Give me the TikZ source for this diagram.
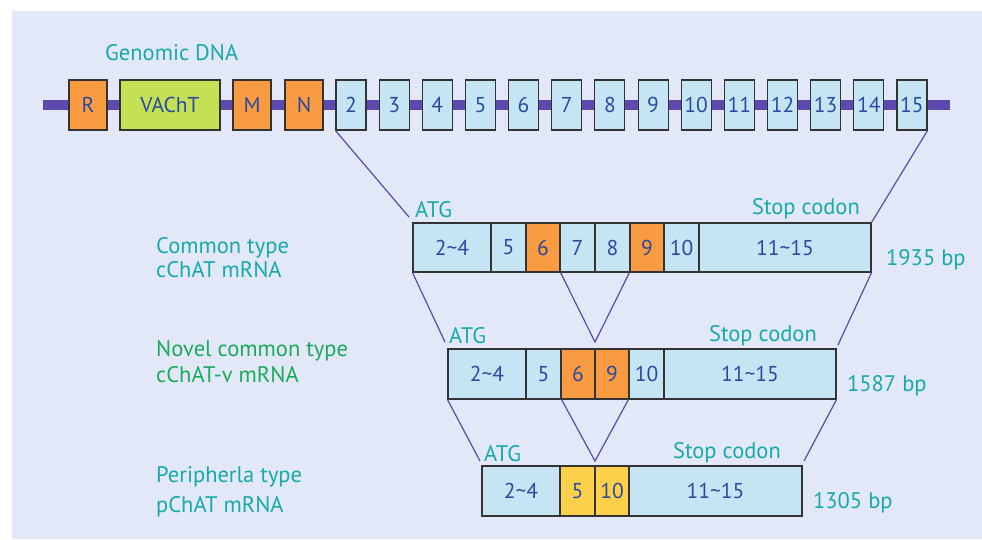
\documentclass[tikz,border=0pt]{standalone}
\usepackage{fontspec}
\setmainfont{PT Sans}
\definecolor{bg}{HTML}{E2E8F7}
\definecolor{exonblue}{HTML}{C5E5F5}
\definecolor{exorange}{HTML}{F99B40}
\definecolor{exgreen}{HTML}{C4E054}
\definecolor{exyellow}{HTML}{FDD04C}
\definecolor{numblue}{HTML}{2B4AA0}
\definecolor{teal}{HTML}{16AAAA}
\definecolor{lblgreen}{HTML}{1BAA5C}
\definecolor{dna}{HTML}{5E4AAE}
\definecolor{conn}{HTML}{5B4AAA}
\definecolor{edge}{HTML}{333333}
\newcommand\bx[7]{\node[exonbox,fill=#6,minimum width={(#3-#2)*1pt},minimum height={(#5-#4)*1pt}] (#1) at ({(#2+#3)/2},{(#4+#5)/2}) {#7};}
\begin{document}
\begin{tikzpicture}[x=1pt,y=-1pt,
  exonbox/.style={draw=edge,line width=1.1pt,inner sep=0pt,text=numblue,font=\fontsize{21.5}{24}\selectfont},
  lbl/.style={text=teal,font=\fontsize{22.5}{25}\selectfont,inner sep=0pt},
  lblg/.style={text=lblgreen,font=\fontsize{22.5}{25}\selectfont,inner sep=0pt},
  connector/.style={draw=conn,line width=1.2pt},
  dnaline/.style={draw=dna,line width=10pt}]
\useasboundingbox (0,0) rectangle (982,539);
\fill[bg] (12,11) rectangle (982,539);
% genomic DNA
\coordinate (dnaL) at (43,105);
\coordinate (dnaR) at (950,105);
\draw[dnaline] (dnaL) -- (dnaR);
\node[lbl,anchor=base west] (gdna) at (105,60) {Genomic DNA};
\bx{gR}{69}{107}{80}{130}{exorange}{R}
\bx{gV}{120}{220}{80}{130}{exgreen}{VAChT}
\bx{gM}{233}{271}{80}{130}{exorange}{M}
\bx{gN}{285}{323}{80}{130}{exorange}{N}
\foreach \n [count=\i from 0] in {2,...,15}{
  \pgfmathsetmacro\xa{336+43.15*\i}
  \pgfmathsetmacro\xb{\xa+30}
  \bx{g\n}{\xa}{\xb}{80}{130}{exonblue}{\n}
}
% row 1
\bx{a24}{413}{491}{223}{272}{exonblue}{2\char`~4}
\bx{a5}{491}{526}{223}{272}{exonblue}{5}
\bx{a6}{526}{560}{223}{272}{exorange}{6}
\bx{a7}{560}{595}{223}{272}{exonblue}{7}
\bx{a8}{595}{630}{223}{272}{exonblue}{8}
\bx{a9}{630}{664}{223}{272}{exorange}{9}
\bx{a10}{664}{699}{223}{272}{exonblue}{10}
\bx{a11}{699}{871}{223}{272}{exonblue}{11\char`~15}
\node[lbl,anchor=base west] (atg1) at (415,217) {ATG};
\node[lbl,anchor=base east] (stop1) at (860,214) {Stop codon};
\node[lbl,anchor=base west] (bp1) at (886,265) {1935 bp};
\node[lbl,anchor=base west] (t1a) at (156,253) {Common type};
\node[lbl,anchor=base west] (t1b) at (156,277) {cChAT mRNA};
% row 2
\bx{b24}{448}{526}{349}{399}{exonblue}{2\char`~4}
\bx{b5}{526}{561}{349}{399}{exonblue}{5}
\bx{b6}{561}{595}{349}{399}{exorange}{6}
\bx{b9}{595}{629}{349}{399}{exorange}{9}
\bx{b10}{629}{664}{349}{399}{exonblue}{10}
\bx{b11}{664}{836}{349}{399}{exonblue}{11\char`~15}
\node[lbl,anchor=base west] (atg2) at (449,343) {ATG};
\node[lbl,anchor=base east] (stop2) at (817,341) {Stop codon};
\node[lbl,anchor=base west] (bp2) at (847,391) {1587 bp};
\node[lblg,anchor=base west] (t2a) at (156,356) {Novel common type};
\node[lblg,anchor=base west] (t2b) at (156,382) {cChAT-v mRNA};
% row 3
\bx{c24}{482}{560}{466}{516}{exonblue}{2\char`~4}
\bx{c5}{560}{595}{466}{516}{exyellow}{5}
\bx{c10}{595}{629}{466}{516}{exyellow}{10}
\bx{c11}{629}{802}{466}{516}{exonblue}{11\char`~15}
\node[lbl,anchor=base west] (atg3) at (484,461) {ATG};
\node[lbl,anchor=base east] (stop3) at (781,458) {Stop codon};
\node[lbl,anchor=base west] (bp3) at (813,508) {1305 bp};
\node[lbl,anchor=base west] (t3a) at (156,482) {Peripherla type};
\node[lbl,anchor=base west] (t3b) at (156,512) {pChAT mRNA};
% connectors
\coordinate (p1) at (409,217);
\coordinate (p2) at (445,342);
\coordinate (q1) at (595,342);
\coordinate (r2) at (838,345);
\coordinate (p3) at (480,461);
\coordinate (q2) at (595,461);
\coordinate (r3) at (804,461);
\draw[connector] (g2.south west) -- (p1);
\draw[connector] (g15.south east) -- (a11.north east);
\draw[connector] (a24.south west) -- (p2);
\draw[connector] (a6.south east) -- (q1) -- (a9.south west);
\draw[connector] (a11.south east) -- (r2);
\draw[connector] (b24.south west) -- (p3);
\draw[connector] (b5.south east) -- (q2) -- (b10.south west);
\draw[connector] (b11.south east) -- (r3);
\end{tikzpicture}
\end{document}
